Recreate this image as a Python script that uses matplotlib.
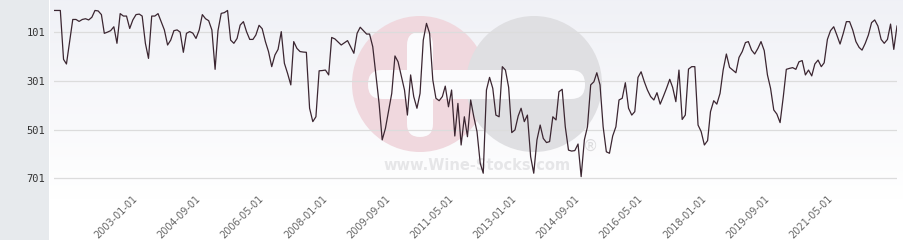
import numpy as np
import matplotlib
matplotlib.use("Agg")
import matplotlib.pyplot as plt
import matplotlib.dates as mdates
from matplotlib.patches import Circle, FancyBboxPatch, Rectangle

# monthly rank series, month offsets counted from 2000-11
START_MONTH = "2000-11"
month_offsets = [
    0, 2, 3, 4, 6, 7, 8, 9, 10, 11, 12, 13, 14, 15, 16, 17, 18, 19, 20, 21,
    22, 23, 24, 25, 26, 27, 28, 29, 30, 31, 32, 33, 35, 36, 37, 38, 39, 40, 41, 42,
    43, 44, 45, 46, 47, 48, 49, 50, 51, 52, 53, 54, 55, 56, 57, 58, 59, 60, 61, 62,
    63, 64, 65, 66, 67, 68, 69, 70, 71, 72, 73, 74, 75, 76, 77, 78, 79, 80, 81, 82,
    83, 84, 85, 86, 87, 88, 89, 91, 93, 95, 96, 97, 99, 100, 101, 103, 104, 105, 107, 108,
    109, 111, 112, 113, 114, 115, 116, 117, 118, 119, 120, 121, 122, 123, 124, 125, 126, 127, 128, 129,
    130, 131, 132, 133, 134, 135, 136, 137, 138, 139, 140, 141, 142, 143, 144, 145, 146, 147, 148, 149,
    150, 151, 152, 153, 154, 155, 156, 157, 158, 159, 160, 161, 162, 163, 164, 165, 166, 167, 168, 169,
    170, 171, 172, 173, 174, 175, 176, 177, 178, 179, 180, 181, 182, 183, 184, 185, 186, 187, 188, 189,
    190, 191, 192, 193, 194, 195, 196, 197, 198, 199, 200, 201, 202, 203, 204, 205, 206, 207, 208, 209,
    210, 211, 212, 213, 214, 215, 216, 217, 218, 219, 220, 221, 222, 223, 224, 225, 226, 227, 228, 229,
    230, 231, 232, 233, 234, 235, 236, 237, 238, 239, 240, 241, 242, 243, 244, 245, 246, 247, 248, 249,
    250, 251, 252, 253, 254, 255, 256, 257, 258, 259, 260, 261, 262, 263, 264, 265, 266, 267,
]
ranks = [
    11, 11, 212, 231, 48, 48, 56, 48, 45, 50, 39, 11, 13, 28, 105, 100, 94, 78, 146, 24,
    34, 34, 85, 50, 28, 26, 34, 146, 208, 34, 34, 24, 91, 153, 133, 94, 91, 100, 183, 105,
    98, 104, 126, 91, 28, 45, 53, 91, 253, 94, 23, 20, 11, 133, 146, 126, 71, 57, 98, 130,
    130, 112, 72, 86, 139, 180, 242, 194, 171, 98, 228, 270, 317, 139, 167, 180, 182, 183, 413, 468,
    448, 259, 258, 256, 276, 122, 128, 153, 135, 187, 105, 80, 108, 108, 160, 393, 543, 496, 352, 198,
    222, 338, 441, 276, 365, 413, 352, 133, 64, 105, 297, 372, 382, 365, 322, 407, 338, 527, 393, 564,
    448, 530, 379, 448, 509, 639, 680, 338, 286, 331, 441, 448, 242, 256, 327, 513, 502, 445, 413, 468,
    441, 612, 680, 543, 482, 537, 554, 550, 448, 461, 345, 335, 489, 585, 589, 587, 560, 694, 543, 489,
    317, 304, 267, 317, 489, 592, 598, 527, 489, 379, 372, 308, 413, 441, 427, 286, 263, 304, 338, 365,
    379, 349, 396, 365, 331, 294, 327, 386, 256, 459, 441, 252, 242, 242, 482, 509, 564, 546, 427, 382,
    396, 352, 256, 190, 245, 256, 267, 204, 180, 143, 139, 174, 190, 167, 139, 176, 276, 331, 420, 437,
    472, 365, 253, 249, 246, 253, 222, 217, 276, 256, 280, 231, 215, 242, 226, 130, 94, 78, 112, 149,
    105, 57, 57, 91, 139, 163, 174, 146, 112, 61, 50, 75, 130, 146, 130, 67, 171, 75,
]
x_ticks = ["2003-01-01", "2004-09-01", "2006-05-01", "2008-01-01", "2009-09-01", "2011-05-01",
           "2013-01-01", "2014-09-01", "2016-05-01", "2018-01-01", "2019-09-01", "2021-05-01"]
y_ticks = [101, 301, 501, 701]

W, H = 904, 240
fig = plt.figure(figsize=(W / 100, H / 100), dpi=100)
fig.patch.set_facecolor("white")

# background layer: grey side panel, gradient plot area and watermark
bg = fig.add_axes([0, 0, 1, 1], zorder=0)
bg.set_xlim(0, W)
bg.set_ylim(H, 0)
bg.axis("off")
bg.add_patch(Rectangle((0, 0), 49, H, color="#e7eaed", lw=0))
grad = np.linspace(0, 1, 200)[:, None]
top = np.array([0.941, 0.945, 0.965])
rgb = top[None, None, :] * (1 - grad[:, :, None]) + np.ones(3)[None, None, :] * grad[:, :, None]
bg.imshow(rgb, extent=(50, W, 200, 0), aspect="auto", zorder=0.5)

bg.add_patch(Circle((420, 84), 68, color="#f0d8de", lw=0, zorder=1))
bg.add_patch(Circle((534, 84), 68, color="#dfdfe2", lw=0, zorder=1.1))
bg.add_patch(FancyBboxPatch((368, 70), 217, 29, boxstyle="round,pad=0,rounding_size=14",
                            color="#fbfbfd", lw=0, zorder=1.2))
bg.add_patch(FancyBboxPatch((407, 32), 26, 105, boxstyle="round,pad=0,rounding_size=13",
                            color="#fbfbfd", lw=0, zorder=1.2))
bg.text(477, 166, "www.Wine-Stocks.com", ha="center", va="center", fontsize=10.5,
        fontweight="bold", color="#e6e6e8", zorder=1.3)
bg.text(591, 146, "\u00ae", ha="center", va="center", fontsize=11, color="#dcdcde", zorder=1.3)

ax = fig.add_axes([54 / W, 50 / H, 843 / W, 190 / H], zorder=2)
ax.patch.set_alpha(0)

dates = np.datetime64(START_MONTH, "M") + np.array(month_offsets)
dates = dates.astype("datetime64[D]")
ax.plot(dates, ranks, color="#3b2631", lw=0.9, zorder=3)

ax.set_xlim(dates[0], dates[-1])
ax.set_ylim(749, -32)
ax.set_yticks(y_ticks)
ax.set_yticklabels([str(v) for v in y_ticks], family="DejaVu Sans Mono", fontsize=7.5, color="#333333")
ax.set_xticks(np.array(x_ticks, dtype="datetime64[D]"))
ax.xaxis.set_major_formatter(mdates.DateFormatter("%Y-%m-%d"))
for lab in ax.get_xticklabels():
    lab.set_rotation(45)
    lab.set_ha("right")
    lab.set_va("center")
    lab.set_rotation_mode("anchor")
    lab.set_fontsize(7)
    lab.set_color("#666666")
ax.tick_params(axis="both", length=0)
ax.tick_params(axis="y", pad=6.5)
ax.tick_params(axis="x", pad=5)
ax.grid(axis="y", color="#dcdcdc", lw=0.9)
ax.grid(axis="x", visible=False)
for s in ax.spines.values():
    s.set_visible(False)

fig.savefig("out.png", dpi=100)
